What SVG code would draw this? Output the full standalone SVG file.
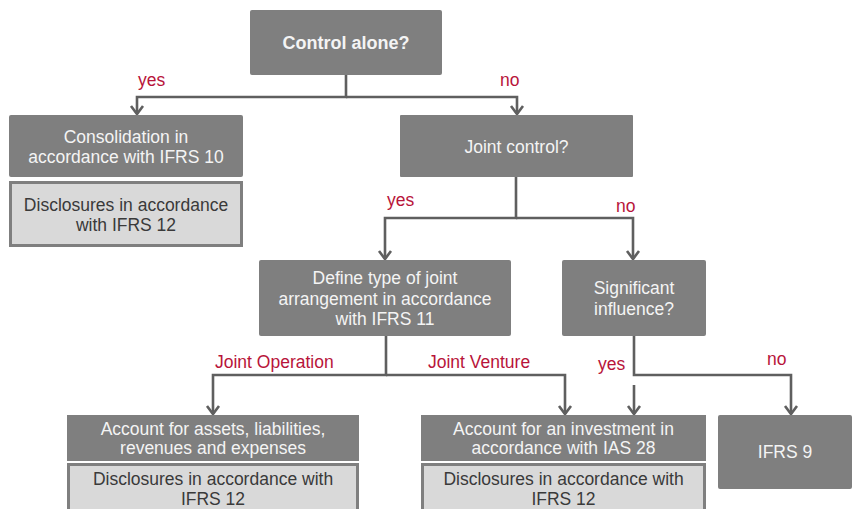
<svg xmlns="http://www.w3.org/2000/svg" width="854" height="509" viewBox="0 0 854 509">
<style>
.box{fill:#7f7f7f;}
.disc{fill:#d9d9d9;stroke:#7f7f7f;stroke-width:3;}
.t{font-family:"Liberation Sans",Arial,sans-serif;font-size:17.5px;fill:#f4f4f4;text-anchor:middle;}
.tb{font-weight:bold;font-size:18px;}
.td{font-family:"Liberation Sans",Arial,sans-serif;font-size:17.5px;fill:#3a3a3a;text-anchor:middle;}
.lbl{font-family:"Liberation Sans",Arial,sans-serif;font-size:17.5px;fill:#b8143a;}
.c{fill:none;stroke:#5f5f5f;stroke-width:2.6;marker-end:url(#arr);}
.s{fill:none;stroke:#5f5f5f;stroke-width:2.6;}
</style>
<defs>
<marker id="arr" markerUnits="userSpaceOnUse" markerWidth="20" markerHeight="20" viewBox="-10 -10 20 20" refX="0" refY="0" orient="auto" overflow="visible">
<path d="M-8,-6 L0,0 L-8,6" fill="none" stroke="#5f5f5f" stroke-width="2.6"/>
</marker>
</defs>
<rect width="854" height="509" fill="#ffffff"/>

<g id="connectors">
<path class="c" d="M346,75 V97 H137 V114"/>
<path class="c" d="M346,97 H517 V114"/>
<path class="c" d="M516,177 V218 H385 V259"/>
<path class="c" d="M516,218 H633 V259"/>
<path class="c" d="M386,336 V375 H213 V414"/>
<path class="c" d="M386,375 H565 V414"/>
<path class="c" d="M634,336 V375 H791 V414"/>
<path class="c" d="M634,385 V414"/>
<text class="lbl" x="138" y="86">yes</text>
<text class="lbl" x="500" y="86">no</text>
<text class="lbl" x="387" y="206">yes</text>
<text class="lbl" x="616" y="212">no</text>
<text class="lbl" x="215" y="368">Joint Operation</text>
<text class="lbl" x="428" y="368">Joint Venture</text>
<text class="lbl" x="598" y="370">yes</text>
<text class="lbl" x="767" y="365">no</text>
</g>

<g id="control-alone">
<rect class="box" x="250" y="10" width="192" height="65" rx="2"/>
<text class="t tb" x="346" y="49">Control alone?</text>
</g>

<g id="consolidation">
<rect class="box" x="9" y="115" width="234" height="62" rx="2"/>
<text class="t" x="126" y="143">Consolidation in</text>
<text class="t" x="126" y="163">accordance with IFRS 10</text>
</g>

<g id="disclosures-1">
<rect class="disc" x="10.5" y="182.5" width="231" height="63"/>
<text class="td" x="126" y="211">Disclosures in accordance</text>
<text class="td" x="126" y="231">with IFRS 12</text>
</g>

<g id="joint-control">
<rect class="box" x="400" y="115" width="233" height="62" rx="1"/>
<text class="t" x="516.5" y="153">Joint control?</text>
</g>

<g id="define-type">
<rect class="box" x="259" y="260" width="252" height="76" rx="2"/>
<text class="t" x="385" y="284">Define type of joint</text>
<text class="t" x="385" y="304.5">arrangement in accordance</text>
<text class="t" x="385" y="325">with IFRS 11</text>
</g>

<g id="significant-influence">
<rect class="box" x="562" y="260" width="144" height="76" rx="2"/>
<text class="t" x="634" y="293.5">Significant</text>
<text class="t" x="634" y="315">influence?</text>
</g>

<g id="account-assets">
<rect class="box" x="67" y="415" width="292" height="46"/>
<text class="t" x="213" y="435">Account for assets, liabilities,</text>
<text class="t" x="213" y="454">revenues and expenses</text>
</g>

<g id="disclosures-2">
<rect class="disc" x="68.5" y="464.5" width="289" height="60"/>
<text class="td" x="213" y="485">Disclosures in accordance with</text>
<text class="td" x="213" y="505">IFRS 12</text>
</g>

<g id="account-investment">
<rect class="box" x="421" y="415" width="285" height="46"/>
<text class="t" x="563.5" y="435">Account for an investment in</text>
<text class="t" x="563.5" y="454">accordance with IAS 28</text>
</g>

<g id="disclosures-3">
<rect class="disc" x="422.5" y="464.5" width="282" height="60"/>
<text class="td" x="563.5" y="485">Disclosures in accordance with</text>
<text class="td" x="563.5" y="505">IFRS 12</text>
</g>

<g id="ifrs9">
<rect class="box" x="718" y="415" width="134" height="74" rx="2"/>
<text class="t" x="785" y="458">IFRS 9</text>
</g>
</svg>
